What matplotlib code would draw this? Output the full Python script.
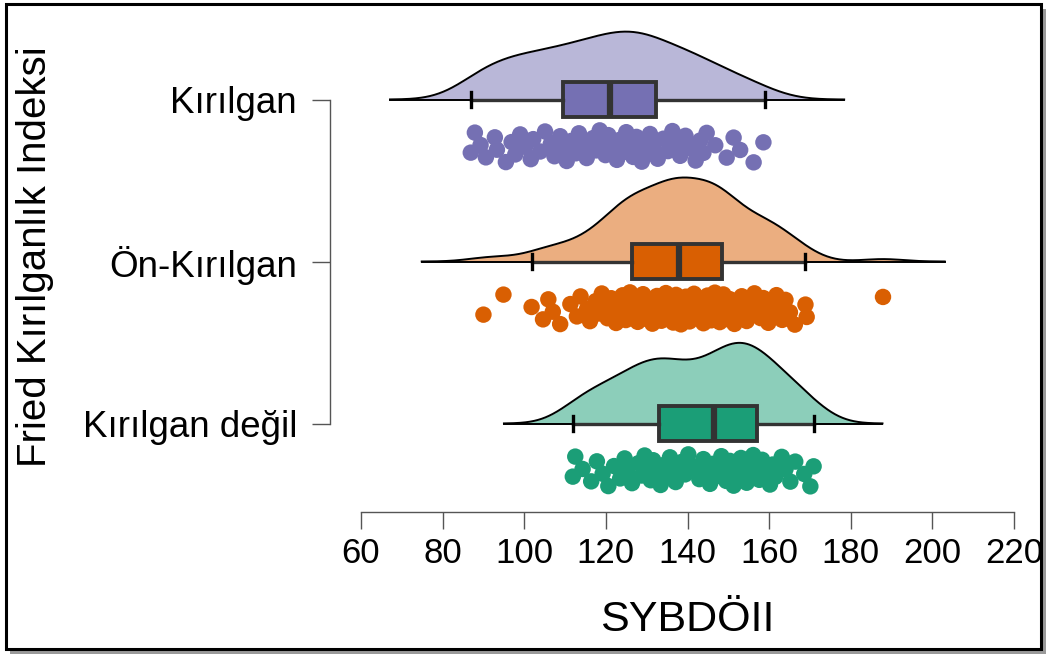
import numpy as np
import matplotlib
matplotlib.use("Agg")
import matplotlib.pyplot as plt
from matplotlib import font_manager
from matplotlib.patches import Rectangle

# ---- data -------------------------------------------------------------
groups = ["Kırılgan", "Ön-Kırılgan", "Kırılgan değil"]

kirilgan = [
    86.9, 87.9, 89.3,
    90.6, 92.8, 93.3, 95.5, 96.9, 97.8, 99.0,
    100.2, 101.6, 102.2, 103.9, 105.1, 106.5, 107.4, 108.8, 109.3,
    110.4, 111.5, 112.6, 113.4, 114.8, 115.3, 116.9, 117.6, 118.5, 119.4, 119.9,
    120.6, 121.5, 122.7, 123.4, 124.3, 125.0, 125.8, 126.7, 127.5, 128.1, 128.8,
    129.6,
    130.2, 130.8, 131.6, 132.7, 134.1, 135.2, 136.3, 137.4, 138.2, 139.5,
    140.6, 142.0, 143.1, 143.9, 144.7, 146.8, 149.6,
    151.3, 152.9, 156.2, 158.6,
]

on_kirilgan = [
    90.0, 94.9, 101.8, 104.6, 105.9, 107.0, 108.8, 111.3, 112.9, 113.8, 115.4,
    116.1, 117.5, 118.2, 119.0, 119.9, 120.4, 121.3, 121.8, 122.5, 122.9, 123.4,
    124.1, 124.3, 124.9, 125.2, 125.6, 125.9, 126.2, 126.4,
    126.9, 127.1, 127.8, 128.3, 128.5, 129.1, 129.7, 130.0, 130.6, 130.9, 131.4,
    131.8, 132.3, 132.5, 133.1, 133.6, 133.9, 134.4, 134.7, 135.0, 135.5, 135.9,
    136.3, 136.5, 136.8, 137.0, 137.2, 137.4, 137.6, 137.8,
    138.1, 138.4, 138.9, 139.3, 139.6, 140.2, 140.5, 140.9, 141.4, 141.6, 142.2,
    142.7, 143.0, 143.3, 143.9, 144.2, 144.6, 144.9, 145.3, 145.8, 146.0, 146.4,
    146.7, 147.0, 147.2, 147.5, 147.7, 147.9, 148.2, 148.4,
    148.8, 149.3, 149.9, 150.4, 150.8, 151.5, 152.0, 152.6, 153.3, 153.9, 154.5,
    155.2, 155.8, 156.4, 157.1, 157.9, 158.6, 159.2, 159.8, 160.5, 161.1, 161.8,
    162.3, 163.2, 164.0, 165.1, 166.3, 168.9, 169.2, 187.9,
]

kirilgan_degil = [
    111.9, 112.5, 114.3, 116.4, 117.8, 119.2,
    120.6, 122.0, 123.5, 124.6, 125.3, 126.4, 128.0, 128.8, 129.5,
    130.1, 131.0, 131.6, 132.7, 133.4, 134.2, 135.1, 135.7, 136.3, 137.1, 138.5,
    139.4,
    140.2, 141.6, 142.9, 143.9, 144.8, 145.5, 146.2, 147.2, 148.3, 149.0, 149.5,
    150.4, 151.0, 151.3, 151.9, 152.4, 153.1, 153.6, 154.5, 155.0, 155.6, 156.1,
    156.9, 157.6, 158.3, 159.4,
    160.2, 160.9, 161.5, 163.1, 164.0, 165.2, 166.4, 168.6, 170.1, 170.9,
]

# box summaries: q1, median, q3, lower whisker, upper whisker
box_q1 = [109.6, 126.4, 133.1]
box_med = [120.9, 137.8, 146.4]
box_q3 = [132.3, 148.4, 157.0]
box_lo = [86.9, 101.9, 111.9]
box_hi = [158.9, 168.9, 170.9]

x_ticks = [60, 80, 100, 120, 140, 160, 180, 200, 220]
x_label = "SYBDÖII"
y_label = "Fried Kırılganlık Indeksi"

colors = ["#7570b3", "#d95f02", "#1b9e77"]

# ---- fonts ------------------------------------------------------------
installed = {f.name for f in font_manager.fontManager.ttflist}
regular = "Liberation Sans" if "Liberation Sans" in installed else "DejaVu Sans"

# ---- figure -----------------------------------------------------------
W, H = 1049, 657
fig = plt.figure(figsize=(W / 100, H / 100), dpi=100)

# framed panel with a drop shadow
fig.patches.append(Rectangle((10 / W, 1 - 654 / H), 1036 / W, 645 / H,
                             transform=fig.transFigure, facecolor="#9a9a9a",
                             edgecolor="none", zorder=0))
fig.patches.append(Rectangle((6 / W, 1 - 649 / H), 1035 / W, 645 / H,
                             transform=fig.transFigure, facecolor="white",
                             edgecolor="black", linewidth=2.2, zorder=1))

ax = fig.add_axes([361 / W, 1 - 512 / H, 653 / W, 492 / H])
ax.set_facecolor("none")
ax.set_zorder(2)

unit = 162.0  # pixels per group step
ax.set_xlim(60, 220)
ax.set_ylim(-(512 - 423.5) / unit, 2 + (99.5 - 20) / unit)

ypos = [2, 1, 0]
datasets = [kirilgan, on_kirilgan, kirilgan_degil]


def kde(values, grid, bw):
    v = np.asarray(values)[:, None]
    z = (grid[None, :] - v) / bw
    return np.exp(-0.5 * z ** 2).sum(axis=0) / (len(values) * bw * np.sqrt(2 * np.pi))


def nrd0(values):
    v = np.asarray(values)
    sd = v.std(ddof=1)
    iqr = np.subtract(*np.percentile(v, [75, 25]))
    return 0.9 * min(sd, iqr / 1.34) * len(v) ** -0.2


bw_adjust = 0.9
curves = []
for vals in datasets:
    bw = nrd0(vals) * bw_adjust
    g = np.linspace(min(vals) - 3 * bw, max(vals) + 3 * bw, 512)
    curves.append((g, kde(vals, g, bw)))
peak = max(d.max() for _, d in curves)
scale = (84 / unit) / peak

# half violins
for (g, d), y0, c in zip(curves, ypos, colors):
    top = y0 + d * scale
    ax.fill_between(g, y0, top, color=c, alpha=0.5, linewidth=0, zorder=2)
    ax.plot(g, top, color="black", lw=1.4, zorder=3)
    ax.plot([g[0], g[-1]], [y0, y0], color="black", lw=1.4, zorder=3)

# box plots
stats = [dict(q1=a, med=m, q3=b, whislo=lo, whishi=hi, fliers=[])
         for a, m, b, lo, hi in zip(box_q1, box_med, box_q3, box_lo, box_hi)]
bp = ax.bxp(stats, positions=ypos, widths=0.22, orientation="horizontal",
            patch_artist=True, showfliers=False, capwidths=0.095,
            boxprops=dict(edgecolor="#333333", linewidth=2.8),
            whiskerprops=dict(color="#333333", linewidth=2.4),
            capprops=dict(color="black", linewidth=2.4),
            medianprops=dict(color="#333333", linewidth=4.5, solid_capstyle="butt"),
            manage_ticks=False, zorder=4)
for patch, c in zip(bp["boxes"], colors):
    patch.set_facecolor(c)

# jittered raw observations below each cloud
phi = (np.sqrt(5) - 1) / 2
for vals, y0, c in zip(datasets, ypos, colors):
    n = len(vals)
    jit = ((np.arange(n) * phi + 0.31) % 1.0 - 0.5) * 2 * 0.1
    ax.scatter(vals, y0 - 0.29 + jit, s=140, color=c, edgecolors="none", zorder=3)

# axes styling
for side in ("top", "right"):
    ax.spines[side].set_visible(False)
ax.spines["left"].set_position(("outward", 22))
ax.spines["left"].set_bounds(0, 2)
ax.spines["bottom"].set_bounds(60, 220)
for side in ("left", "bottom"):
    ax.spines[side].set_color("#555555")
    ax.spines[side].set_linewidth(1.0)

ax.set_xticks(x_ticks)
ax.set_xticklabels([str(t) for t in x_ticks], fontfamily=regular, fontsize=25)
ax.set_yticks(ypos)
ax.set_yticklabels(groups, fontfamily=regular, fontsize=26.5)
ax.tick_params(axis="x", length=12, width=1.0, color="#555555", pad=6)
ax.tick_params(axis="y", length=13, width=1.0, color="#555555", pad=11)

ax.set_xlabel(x_label, fontfamily=regular, fontsize=31)
ax.xaxis.set_label_coords(0.5, -(620 - 512) / 492, transform=ax.transAxes)
ax.xaxis.label.set_va("center")
ax.set_ylabel(y_label, fontfamily=regular, fontsize=29)
ax.yaxis.label.set_va("center")
ax.yaxis.set_label_coords(-(361 - 35) / 653, (512 - 257) / 492)

fig.savefig("out.png", dpi=100)
